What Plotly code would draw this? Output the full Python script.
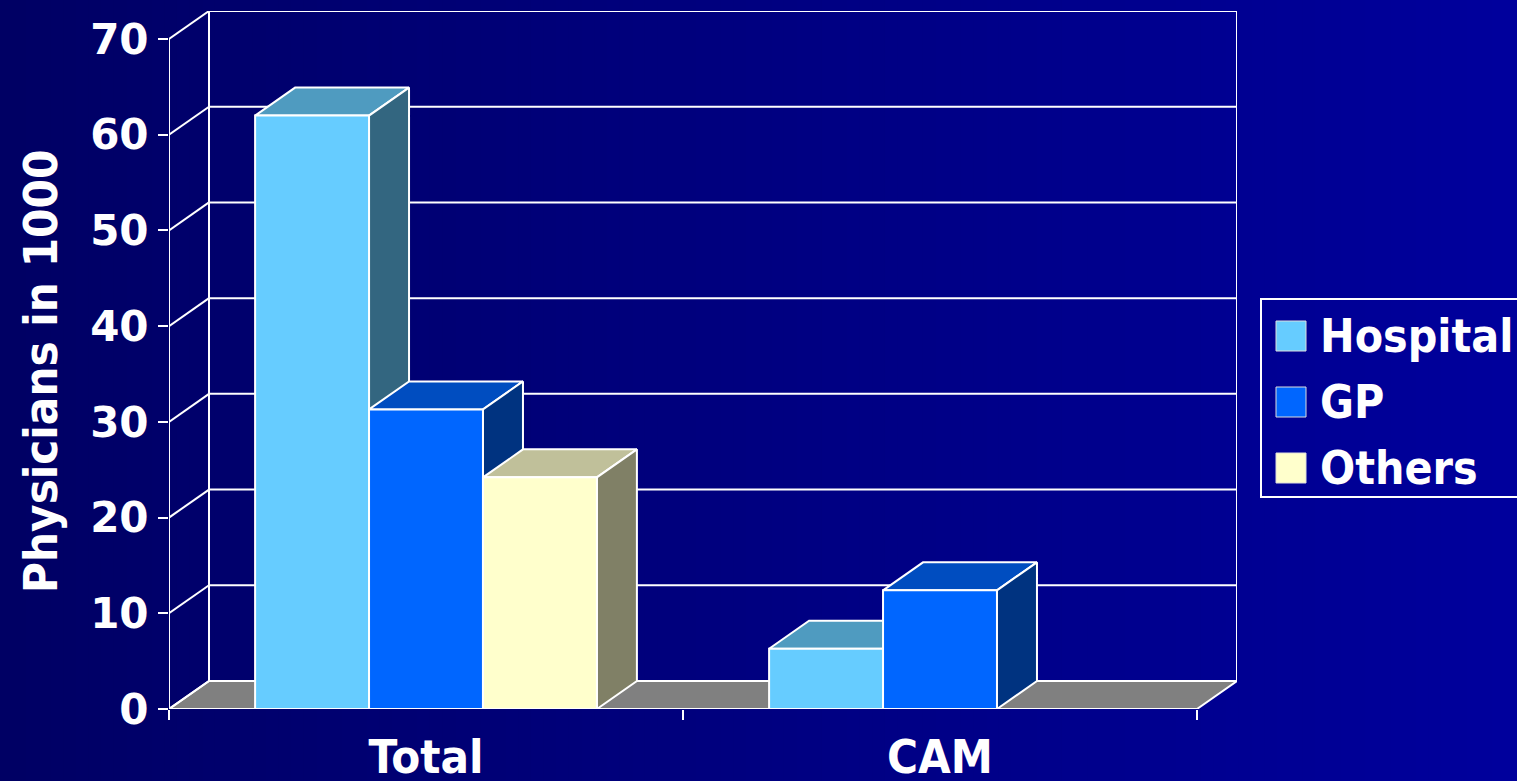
import plotly.graph_objects as go

# ---------------- data ----------------
CATEGORIES = ["Total", "CAM"]
SERIES = ["Hospital", "GP", "Others"]
HOSPITAL = [62.0, 6.3]
GP = [31.3, 12.4]
OTHERS = [24.2, 0.0]
Y_TICKS = [0, 10, 20, 30, 40, 50, 60, 70]
Y_TITLE = "Physicians in 1000"

VALUES = [HOSPITAL, GP, OTHERS]

# ---------------- style ----------------
FRONT = ["#66CCFF", "#0066FF", "#FFFFCC"]
TOP = ["#4F9BC0", "#004DC0", "#C0C09A"]
SIDE = ["#336680", "#003380", "#808066"]
FLOOR = "#808080"
LINE = "#FFFFFF"
W, H = 1517, 781

BARGAP = 0.335
BAR_W = (1 - BARGAP) / 3
DEPTH_X = 40 / 514          # depth offset in category units
DEPTH_Y = 28 / (670 / 70)   # depth offset in value units
YMAX = 70
XR = [-0.5, len(CATEGORIES) - 0.5 + DEPTH_X]
YR = [0, YMAX + DEPTH_Y]
X_DOMAIN = [169 / W, 1237 / W]
Y_DOMAIN = [(H - 709) / H, (H - 11) / H]

LABEL_FONT = dict(family="DejaVu Sans Condensed, DejaVu Sans", size=47, color="white", weight="bold")
LEGEND_FONT = dict(family="DejaVu Sans Condensed, DejaVu Sans", size=46, color="white", weight="bold")
TICK_FONT = dict(family="DejaVu Sans, Verdana", size=42, color="white", weight="bold")

fig = go.Figure()
xpos = list(range(len(CATEGORIES)))
x_lo, x_hi = -0.5, len(CATEGORIES) - 0.5


def poly(xs, ys, fill, width=2):
    fig.add_trace(go.Scatter(
        x=xs + [xs[0]], y=ys + [ys[0]], mode="lines", fill="toself",
        fillcolor=fill, line=dict(color=LINE, width=width),
        hoverinfo="skip", showlegend=False, xaxis="x", yaxis="y"))


def seg(xs, ys, width=2):
    fig.add_trace(go.Scatter(
        x=xs, y=ys, mode="lines", line=dict(color=LINE, width=width),
        hoverinfo="skip", showlegend=False, xaxis="x", yaxis="y"))


# floor
poly([x_lo, x_hi, x_hi + DEPTH_X, x_lo + DEPTH_X], [0, 0, DEPTH_Y, DEPTH_Y], FLOOR)

# walls: back gridlines, left-wall diagonals, verticals
for v in Y_TICKS:
    seg([x_lo, x_lo + DEPTH_X], [v, v + DEPTH_Y])
    if v > 0:
        seg([x_lo + DEPTH_X, x_hi + DEPTH_X], [v + DEPTH_Y, v + DEPTH_Y])
seg([x_lo + DEPTH_X, x_lo + DEPTH_X], [DEPTH_Y, YMAX + DEPTH_Y])
seg([x_hi + DEPTH_X, x_hi + DEPTH_X], [DEPTH_Y, YMAX + DEPTH_Y])
seg([x_lo, x_lo], [0, YMAX])

# 3D top and side faces (computed from values)
for ci, c in enumerate(xpos):
    for si, vals in enumerate(VALUES):
        v = vals[ci]
        if v <= 0:
            continue
        xl = c + (si - 1) * BAR_W - BAR_W / 2
        xr = xl + BAR_W
        poly([xl, xr, xr + DEPTH_X, xl + DEPTH_X], [v, v, v + DEPTH_Y, v + DEPTH_Y], TOP[si])
        poly([xr, xr, xr + DEPTH_X, xr + DEPTH_X], [0, v, v + DEPTH_Y, DEPTH_Y], SIDE[si])

# front faces as bars on overlay axes
for si, (name, vals) in enumerate(zip(SERIES, VALUES)):
    fig.add_trace(go.Bar(
        x=xpos, y=vals, name=name, marker=dict(color=FRONT[si], line=dict(color=LINE, width=2)),
        xaxis="x2", yaxis="y2", showlegend=False))

# front x-axis line
fig.add_trace(go.Scatter(x=[x_lo, x_hi], y=[0, 0], mode="lines", line=dict(color=LINE, width=2),
                         hoverinfo="skip", showlegend=False, xaxis="x2", yaxis="y2", cliponaxis=False))

# background gradient
shapes = []
N = 120
c0, c1 = (0, 0, 100), (0, 0, 156)
for i in range(N):
    t = i / (N - 1)
    col = "rgb(%d,%d,%d)" % tuple(round(a + (b - a) * t) for a, b in zip(c0, c1))
    shapes.append(dict(type="rect", xref="paper", yref="paper", x0=i / N, x1=(i + 1.5) / N,
                       y0=0, y1=1, fillcolor=col, line=dict(width=0), layer="below"))


def px_x(p):
    return p / W


def px_y(p):
    return (H - p) / H


# legend (custom)
shapes.append(dict(type="rect", xref="paper", yref="paper", x0=px_x(1261), x1=px_x(1560),
                   y0=px_y(497), y1=px_y(299), line=dict(color=LINE, width=2), fillcolor="rgba(0,0,0,0)"))
annotations = []
for si, name in enumerate(SERIES):
    cy = 336 + si * 66
    shapes.append(dict(type="rect", xref="paper", yref="paper", x0=px_x(1276), x1=px_x(1306),
                       y0=px_y(cy + 15), y1=px_y(cy - 15), fillcolor=FRONT[si],
                       line=dict(color="#DDDDDD", width=1)))
    annotations.append(dict(xref="paper", yref="paper", x=px_x(1318), y=px_y(cy), text=name,
                            showarrow=False, xanchor="left", yanchor="middle", font=LEGEND_FONT))

annotations.append(dict(xref="paper", yref="paper", x=px_x(40), y=px_y(372), text=Y_TITLE,
                        textangle=-90, showarrow=False, font=LABEL_FONT, xanchor="center", yanchor="middle"))

fig.update_layout(
    template="none",
    width=W, height=H, autosize=False, margin=dict(l=0, r=0, t=0, b=0, pad=0),
    paper_bgcolor="rgb(0,0,100)", plot_bgcolor="rgba(0,0,0,0)",
    barmode="group", bargap=BARGAP, bargroupgap=0,
    showlegend=False, shapes=shapes, annotations=annotations,
    xaxis=dict(domain=X_DOMAIN, range=XR, tickvals=xpos, ticktext=CATEGORIES, ticks="",
               showgrid=False, zeroline=False, showline=False, tickfont=LABEL_FONT,
               ticklabelstandoff=16, fixedrange=True, automargin=False),
    yaxis=dict(domain=Y_DOMAIN, range=YR, tickvals=Y_TICKS, ticks="outside", ticklen=10,
               tickwidth=2, tickcolor=LINE, showgrid=False, zeroline=False, showline=False,
               tickfont=TICK_FONT, ticklabelstandoff=1, fixedrange=True, automargin=False),
    xaxis2=dict(domain=X_DOMAIN, range=XR, overlaying="x", anchor="y2",
                tickvals=[x_lo + k for k in range(len(CATEGORIES) + 1)], ticks="outside", ticklen=10,
                tickwidth=2, tickcolor=LINE, showticklabels=False, showgrid=False, zeroline=False,
                showline=False, fixedrange=True, automargin=False),
    yaxis2=dict(domain=Y_DOMAIN, range=YR, overlaying="y", anchor="x2", showticklabels=False,
                ticks="", showgrid=False, zeroline=False, showline=False, fixedrange=True,
                automargin=False),
)

fig.write_html(
    "out.html",
    config={"responsive": False, "displayModeBar": False},
    default_width="%dpx" % W, default_height="%dpx" % H,
    post_script="document.body.style.margin='0';document.body.style.overflow='hidden';"
                "document.body.style.background='rgb(0,0,100)';",
)
